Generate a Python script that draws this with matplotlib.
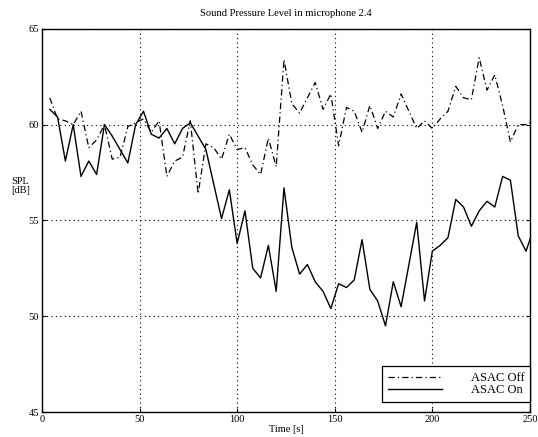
import matplotlib
matplotlib.use("Agg")
import matplotlib.pyplot as plt
import numpy as np

# sample times [s]
time_s = np.arange(4, 253, 4)

# ASAC Off (dash-dot)
spl_off = [
    61.4, 60.3, 60.2, 60.0, 60.7, 58.8, 59.2, 60.0, 58.2, 58.3,
    59.9, 60.1, 60.3, 59.6, 60.2, 57.3, 58.1, 58.3, 60.2, 56.4,
    59.0, 58.8, 58.2, 59.5, 58.7, 58.8, 57.9, 57.4, 59.3, 57.8,
    63.4, 61.1, 60.6, 61.4, 62.2, 60.8, 61.6, 58.9, 60.9, 60.7,
    59.6, 61.0, 59.8, 60.7, 60.4, 61.6, 60.7, 59.8, 60.2, 59.8,
    60.3, 60.7, 62.0, 61.4, 61.3, 63.5, 61.8, 62.6, 61.0, 59.1,
    60.0, 60.0, 60.2,
]

# ASAC On (solid)
spl_on = [
    60.8, 60.4, 58.1, 60.0, 57.3, 58.1, 57.4, 60.0, 59.4, 58.7,
    58.0, 60.0, 60.7, 59.5, 59.3, 59.8, 59.0, 59.8, 60.1, 59.4,
    58.7, 56.9, 55.1, 56.6, 53.8, 55.5, 52.5, 52.0, 53.7, 51.3,
    56.7, 53.6, 52.2, 52.7, 51.8, 51.3, 50.4, 51.7, 51.5, 51.9,
    54.0, 51.4, 50.8, 49.5, 51.8, 50.5, 52.7, 54.9, 50.8, 53.4,
    53.7, 54.1, 56.1, 55.7, 54.7, 55.5, 56.0, 55.7, 57.3, 57.1,
    54.2, 53.4, 54.6,
]

x_ticks = [0, 50, 100, 150, 200, 250]
y_ticks = [45, 50, 55, 60, 65]

plt.rcParams["font.family"] = ["Liberation Serif", "DejaVu Serif"]

fig = plt.figure(figsize=(5.38, 4.37), dpi=100)
fig.patch.set_facecolor("white")
ax = fig.add_axes([0.078, 0.057, 0.907, 0.877])

ax.plot(time_s, spl_off, color="black", linewidth=0.9,
        linestyle=(0, (5, 2.5, 1, 2.5)), label="ASAC Off")
ax.plot(time_s, spl_on, color="black", linewidth=1.0,
        linestyle="-", label="ASAC On")

ax.set_xlim(0, 250)
ax.set_ylim(45, 65)
ax.set_xticks(x_ticks)
ax.set_yticks(y_ticks)
ax.tick_params(direction="in", length=3, width=0.8, labelsize=7.5, pad=2,
               top=False, right=True)
ax.grid(True, linestyle=(0, (1, 3)), color="black", linewidth=0.8)
for sp in ax.spines.values():
    sp.set_linewidth(1.0)
    sp.set_color("black")

ax.set_title("Sound Pressure Level in microphone 2.4", fontsize=7.6, pad=9)
ax.set_xlabel("Time [s]", fontsize=7.5, labelpad=1)
ax.set_ylabel("SPL\n[dB]", fontsize=7.5, rotation=0, ha="center",
              va="center", linespacing=1.0)
ax.yaxis.set_label_coords(-0.044, 0.59)

leg = ax.legend(loc="lower right", fontsize=9, frameon=True, fancybox=False,
                edgecolor="black", framealpha=1, handlelength=4.3,
                handletextpad=2.3, borderpad=0.45, labelspacing=0.0,
                borderaxespad=0, bbox_to_anchor=(1.0, 0.027))
leg.get_frame().set_linewidth(0.9)

fig.savefig("out.png", dpi=100)
